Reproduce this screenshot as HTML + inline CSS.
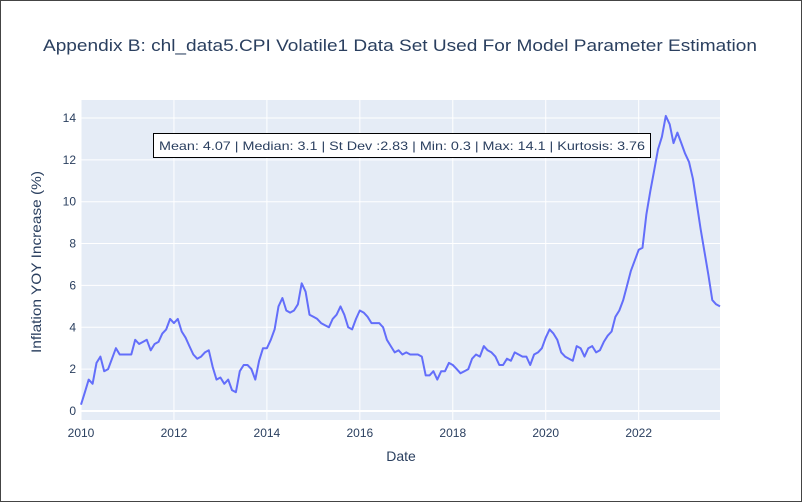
<!DOCTYPE html>
<html><head><meta charset="utf-8"><style>
body{margin:0;background:#fff}
svg{display:block;font-family:"Liberation Sans",Arial,sans-serif}
</style></head><body>
<svg width="802" height="502">
<rect x="0.5" y="0.5" width="801" height="501" fill="#fff" stroke="#444"/>
<text x="400" y="51" text-anchor="middle" font-size="17" fill="#2a3f5f" textLength="714" lengthAdjust="spacingAndGlyphs">Appendix B: chl_data5.CPI Volatile1 Data Set Used For Model Parameter Estimation</text>
<rect x="81" y="100" width="639" height="320" fill="#E5ECF6"/>
<g id="grid"></g>
<g id="ticks" font-size="12" fill="#2a3f5f"></g>
<path id="line" fill="none" stroke="#636efa" stroke-width="2" stroke-linejoin="round"/>
<rect x="153.5" y="133.5" width="497" height="24" fill="#fff" stroke="#000"/>
<text x="402" y="150" text-anchor="middle" font-size="12" fill="#2a3f5f" textLength="486" lengthAdjust="spacingAndGlyphs">Mean: 4.07 | Median: 3.1 | St Dev :2.83 | Min: 0.3 | Max: 14.1 | Kurtosis: 3.76</text>
<text x="401" y="461" text-anchor="middle" font-size="14" fill="#2a3f5f">Date</text>
<text transform="translate(41,262) rotate(-90)" text-anchor="middle" font-size="14" fill="#2a3f5f" textLength="182" lengthAdjust="spacingAndGlyphs">Inflation YOY Increase (%)</text>
</svg>
<script>
const startYear = 2010;
const values = [
0.3,0.9,1.5,1.3,2.3,2.6,1.9,2.0,2.5,3.0,2.7,2.7,
2.7,2.7,3.4,3.2,3.3,3.4,2.9,3.2,3.3,3.7,3.9,4.4,
4.2,4.4,3.8,3.5,3.1,2.7,2.5,2.6,2.8,2.9,2.1,1.5,
1.6,1.3,1.5,1.0,0.9,1.9,2.2,2.2,2.0,1.5,2.4,3.0,
3.0,3.4,3.9,5.0,5.4,4.8,4.7,4.8,5.1,6.1,5.7,4.6,
4.5,4.4,4.2,4.1,4.0,4.4,4.6,5.0,4.6,4.0,3.9,4.4,
4.8,4.7,4.5,4.2,4.2,4.2,4.0,3.4,3.1,2.8,2.9,2.7,
2.8,2.7,2.7,2.7,2.6,1.7,1.7,1.9,1.5,1.9,1.9,2.3,
2.2,2.0,1.8,1.9,2.0,2.5,2.7,2.6,3.1,2.9,2.8,2.6,
2.2,2.2,2.5,2.4,2.8,2.7,2.6,2.6,2.2,2.7,2.8,3.0,
3.5,3.9,3.7,3.4,2.8,2.6,2.5,2.4,3.1,3.0,2.6,3.0,
3.1,2.8,2.9,3.3,3.6,3.8,4.5,4.8,5.3,6.0,6.7,7.2,
7.7,7.8,9.4,10.5,11.5,12.5,13.1,14.1,13.7,12.8,13.3,12.8,
12.3,11.9,11.1,9.9,8.7,7.6,6.5,5.3,5.1,5.0];
const xTicks = [2010,2012,2014,2016,2018,2020,2022];
const yTicks = [0,2,4,6,8,10,12,14];
const NS="http://www.w3.org/2000/svg";
const x0=81,x1=720,y0=411,pxu=20.93;
const nMonths=values.length-1;
function xs(m){return x0+(x1-x0)*m/nMonths;}
function xYear(y){return xs((y-startYear)*12);}
function ys(v){return y0-v*pxu;}
const grid=document.getElementById('grid'),ticks=document.getElementById('ticks');
yTicks.forEach(t=>{
 const l=document.createElementNS(NS,'line');
 l.setAttribute('x1',x0);l.setAttribute('x2',x1);l.setAttribute('y1',ys(t));l.setAttribute('y2',ys(t));
 l.setAttribute('stroke','#fff');l.setAttribute('stroke-width',t===0?2:1);
 
 
 grid.appendChild(l);
 const tx=document.createElementNS(NS,'text');
 tx.setAttribute('x',x0-5);tx.setAttribute('y',ys(t)+4);tx.setAttribute('text-anchor','end');
 tx.textContent=t;
 
 
 ticks.appendChild(tx);
});
xTicks.forEach(t=>{
 const X=xYear(t);
 const l=document.createElementNS(NS,'line');
 l.setAttribute('x1',X);l.setAttribute('x2',X);l.setAttribute('y1',100);l.setAttribute('y2',420);
 l.setAttribute('stroke','#fff');
 
 
 grid.appendChild(l);
 const tx=document.createElementNS(NS,'text');
 tx.setAttribute('x',X);tx.setAttribute('y',437);tx.setAttribute('text-anchor','middle');
 tx.textContent=t;
 
 
 ticks.appendChild(tx);
});
document.getElementById('line').setAttribute('d',values.map((v,i)=>(i?'L':'M')+xs(i).toFixed(1)+','+ys(v).toFixed(1)).join(''));
</script>
</body></html>
